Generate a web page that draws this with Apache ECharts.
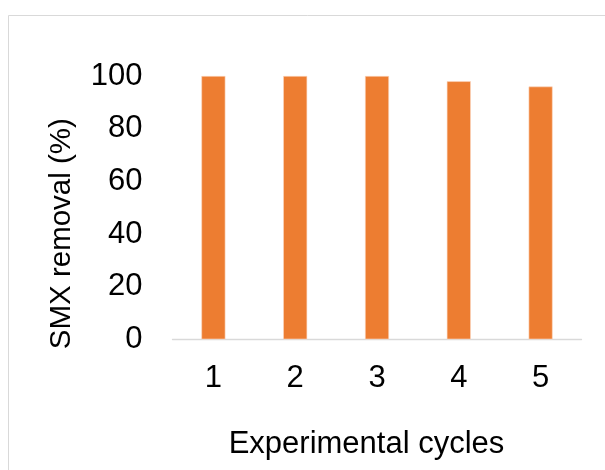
<!DOCTYPE html>
<html>
<head>
<meta charset="utf-8">
<script src="https://cdn.jsdelivr.net/npm/echarts@6/dist/echarts.min.js"></script>
<style>
  html, body { margin: 0; padding: 0; background: #fff; }
  #chart { width: 605px; height: 470px; }
</style>
</head>
<body>
<div id="chart"></div>
<script>
// SMX removal over repeated experimental cycles
const cycles = ['1', '2', '3', '4', '5'];
const removal = [100, 100, 100, 98, 96];
const yTicks = { min: 0, max: 100, step: 20 };

const FONT = '"Liberation Sans", Arial, sans-serif';
const FS = 31;
const chart = echarts.init(document.getElementById('chart'), null, { renderer: 'canvas' });

chart.setOption({
  backgroundColor: '#ffffff',
  animation: false,
  graphic: [{
    type: 'rect',
    silent: true,
    z: -1,
    shape: { x: 8.5, y: 15.5, width: 640, height: 500 },
    style: { fill: 'none', stroke: '#d9d9d9', lineWidth: 1 }
  }],
  grid: { left: 172.5, right: 23.5, top: 76, bottom: 130.7, containLabel: false },
  xAxis: {
    type: 'category',
    data: cycles,
    name: 'Experimental cycles',
    nameLocation: 'middle',
    nameGap: 90,
    nameTextStyle: { fontFamily: FONT, fontSize: FS, color: '#000', padding: [0, 21, 0, 0] },
    axisLine: { show: true, lineStyle: { color: '#d9d9d9', width: 1.3 } },
    axisTick: { show: false },
    axisLabel: { fontFamily: FONT, fontSize: FS, color: '#000', margin: 24 },
    splitLine: { show: false }
  },
  yAxis: {
    type: 'value',
    min: yTicks.min,
    max: yTicks.max,
    interval: yTicks.step,
    name: 'SMX removal (%)',
    nameLocation: 'middle',
    nameRotate: 90,
    nameGap: 96,
    nameTextStyle: { fontFamily: FONT, fontSize: 29.5, color: '#000', padding: [0, 52, 0, 0] },
    axisLine: { show: false },
    axisTick: { show: false },
    axisLabel: { fontFamily: FONT, fontSize: FS, color: '#000', margin: 30 },
    splitLine: { show: false }
  },
  series: [{
    type: 'bar',
    data: removal,
    barWidth: 24,
    itemStyle: { color: '#ED7D31', borderColor: '#fbd9c3', borderWidth: 0.6 }
  }]
});
</script>
</body>
</html>
